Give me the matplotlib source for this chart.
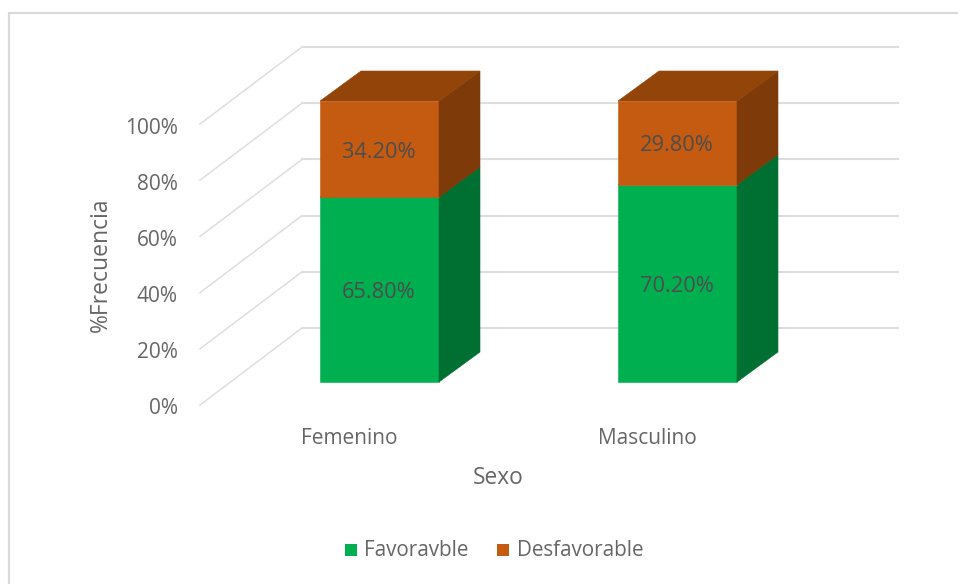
# stacked 3D-look column chart drawn by hand on a flat axes
import matplotlib
matplotlib.use('Agg')
import matplotlib.pyplot as plt
from matplotlib.patches import Polygon, Rectangle

# data
categories = ['Femenino', 'Masculino']
favorable = [65.8, 70.2]
desfavorable = [34.2, 29.8]
ticks = [0, 20, 40, 60, 80, 100]
series_names = ['Favoravble', 'Desfavorable']

# colours: front, top, side
green = ['#00B050', '#008A3E', '#006F32']
orange = ['#C55A11', '#924409', '#7E3A08']
grid_color = '#DEDEDE'
text_color = '#666666'
label_color = '#4D4D4D'

# geometry in pixels
BASE = 382
SCALE = 2.81
DX, DY = 41, -30
BAR_W = 119
BAR_LEFT = [320, 618]

plt.rcParams['font.family'] = ['Open Sans', 'DejaVu Sans']

fig = plt.figure(figsize=(9.58, 5.84), dpi=100)
ax = fig.add_axes([0, 0, 1, 1])
ax.set_xlim(0, 958)
ax.set_ylim(584, 0)
ax.axis('off')

# chart frame
ax.plot([9.5, 9.5, 958], [584, 12.5, 12.5], color='#D9D9D9', lw=1.6, zorder=1)

# walls and gridlines
for t in ticks:
    back_y = 328 - t * SCALE
    front_y = back_y + 77
    ax.plot([200, 302], [front_y, back_y], color=grid_color, lw=1.1, zorder=1)
    ax.plot([302, 898], [back_y, back_y], color=grid_color, lw=1.5, zorder=1)
    ax.text(178, front_y + 4, '%d%%' % t, ha='right', va='center', fontsize=15, color=text_color)


def draw_segment(x, v0, v1, cols, z):
    # front face, right side and top for one stacked piece
    y0 = BASE - v0 * SCALE
    y1 = BASE - v1 * SCALE
    ax.add_patch(Rectangle((x, y1), BAR_W, y0 - y1, fc=cols[0], ec=cols[0], lw=0.4, zorder=z))
    side = [(x + BAR_W, y0), (x + BAR_W + DX, y0 + DY), (x + BAR_W + DX, y1 + DY), (x + BAR_W, y1)]
    ax.add_patch(Polygon(side, closed=True, fc=cols[2], ec=cols[2], lw=0.4, zorder=z))
    top = [(x, y1), (x + DX, y1 + DY), (x + BAR_W + DX, y1 + DY), (x + BAR_W, y1)]
    ax.add_patch(Polygon(top, closed=True, fc=cols[1], ec=cols[1], lw=0.4, zorder=z))


for i, name in enumerate(categories):
    x = BAR_LEFT[i]
    draw_segment(x, 0, favorable[i], green, 3)
    draw_segment(x, favorable[i], favorable[i] + desfavorable[i], orange, 4)
    # data labels
    mid = x + BAR_W / 2
    ax.text(mid - 1, BASE - favorable[i] / 2 * SCALE + 3, '%.2f%%' % favorable[i], ha='center', va='center',
            fontsize=15.7, color=label_color, zorder=5)
    ax.text(mid - 1, BASE - (favorable[i] + desfavorable[i] / 2) * SCALE + 3, '%.2f%%' % desfavorable[i],
            ha='center', va='center', fontsize=15.7, color=label_color, zorder=5)
    ax.text(x + 29, 439, name, ha='center', va='center', fontsize=15, color=text_color)

# axis titles
ax.text(498, 478, 'Sexo', ha='center', va='center', fontsize=16.4, color=text_color)
ax.text(101, 265, '%Frecuencia', ha='center', va='center', rotation=90, fontsize=16.5, color=text_color)

# legend
ax.add_patch(Rectangle((345, 544), 12, 12, fc=green[0], ec='none'))
ax.text(364, 551, series_names[0], ha='left', va='center', fontsize=14.9, color=text_color)
ax.add_patch(Rectangle((497, 544), 12, 12, fc=orange[0], ec='none'))
ax.text(517, 551, series_names[1], ha='left', va='center', fontsize=14.9, color=text_color)

fig.savefig('out.png', dpi=100)
